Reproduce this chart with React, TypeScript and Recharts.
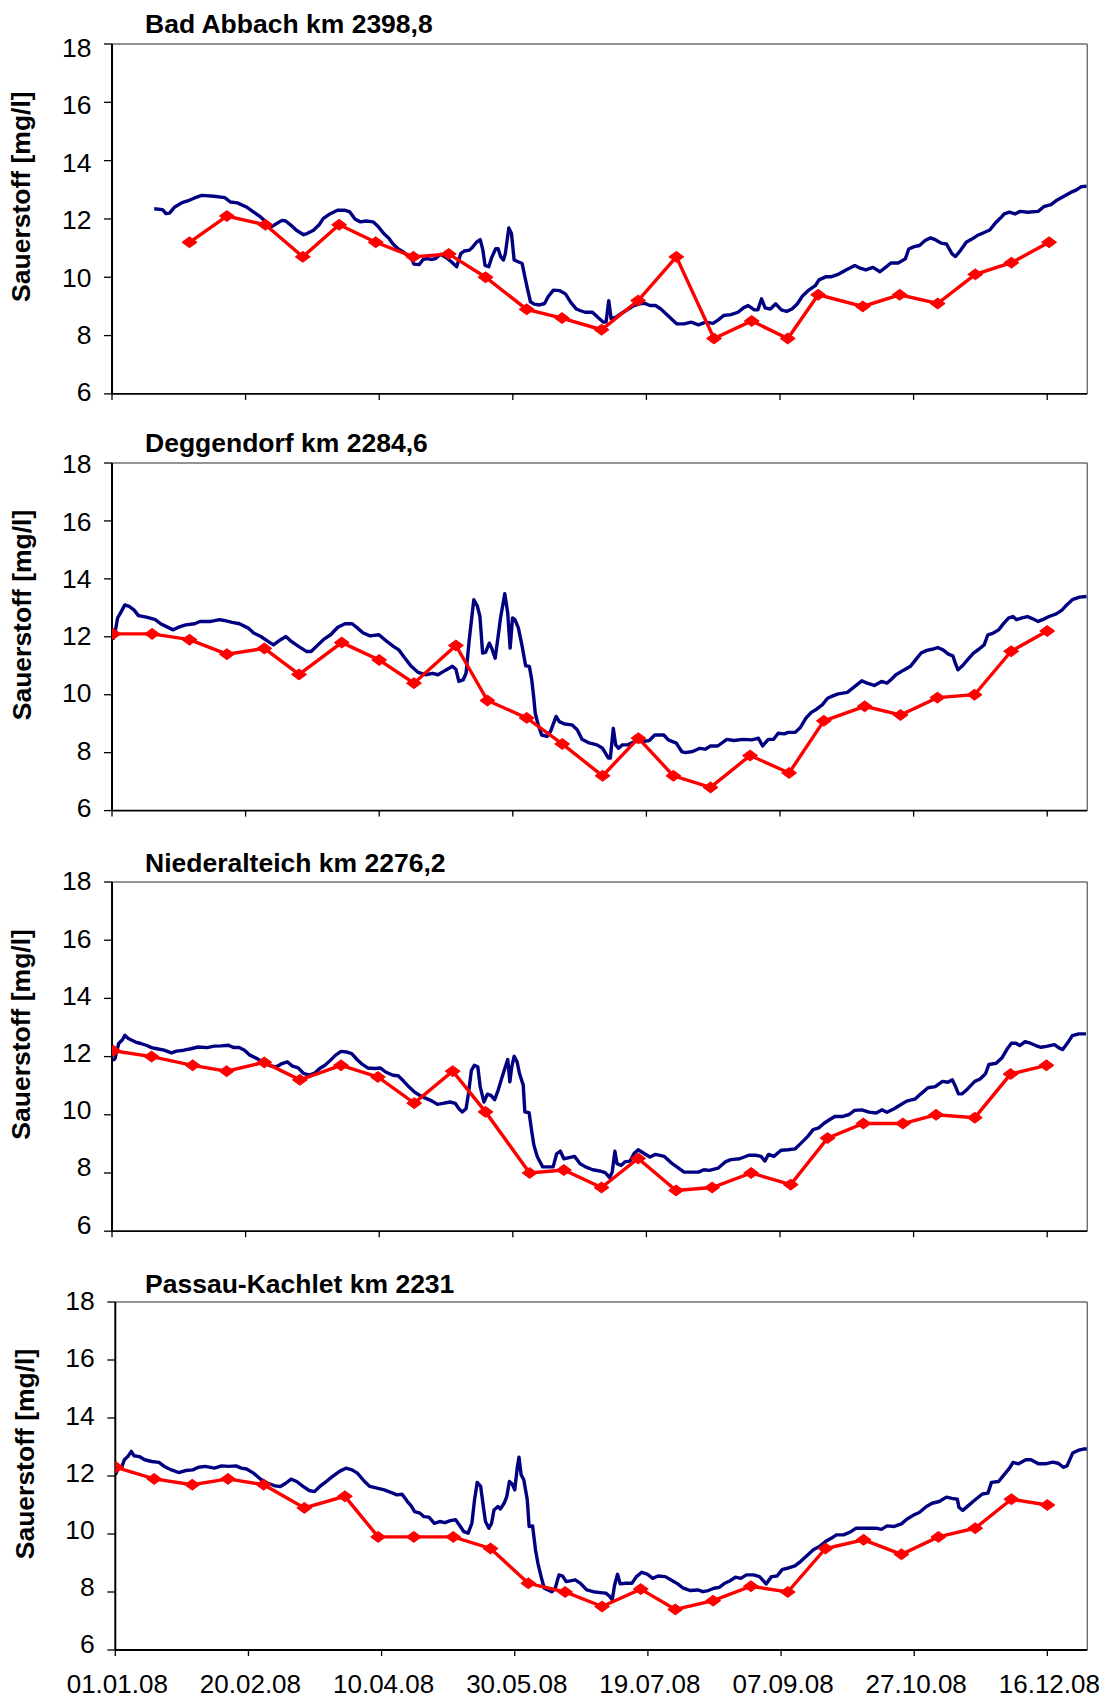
import React from 'react';
import { LineChart, Line, XAxis, YAxis, ReferenceLine } from 'recharts';

// Dissolved oxygen along the Danube, 2008: continuous station record (blue)
// and sampling results (red). x = day of year (0 = 01.01.08).
type Pt = [number, number];

const xTickDays = [0, 50, 100, 150, 200, 250, 300, 350];
const xTickLabels = ['01.01.08', '20.02.08', '10.04.08', '30.05.08', '19.07.08', '07.09.08', '27.10.08', '16.12.08'];
const yTicks = [6, 8, 10, 12, 14, 16, 18];
const yAxisTitle = 'Sauerstoff [mg/l]';
const stationTitles = ['Bad Abbach km 2398,8', 'Deggendorf km 2284,6', 'Niederalteich km 2276,2', 'Passau-Kachlet km 2231'];

const badAbbachContinuous: Pt[] = [
  [15.8,12.35],[18.9,12.32],[20.2,12.18],[21.5,12.2],[23.5,12.41],[26.2,12.56],[28.9,12.64],[30.9,12.72],[33.6,12.81],[38.2,12.78],
  [42.2,12.73],[44.3,12.58],[46.9,12.55],[50.3,12.41],[52.9,12.24],[55.6,12.07],[57.6,11.9],[59.6,11.73],[63.6,11.95],[65,11.93],
  [67,11.78],[69,11.61],[71.7,11.46],[73,11.5],[75.4,11.61],[77.7,11.82],[79,12.01],[81.7,12.18],[84.4,12.3],[87,12.3],
  [89,12.24],[91,11.99],[93,11.9],[95,11.93],[97.7,11.9],[99.7,11.73],[101.7,11.5],[103.7,11.33],[105,11.16],[107,10.98],
  [109,10.87],[110.4,10.76],[111.8,10.7],[113,10.45],[115,10.44],[116.4,10.61],[117.8,10.64],[119.8,10.61],[121,10.64],[123,10.79],
  [125,10.68],[127,10.53],[129,10.36],[130.5,10.81],[131.8,10.9],[133.8,10.93],[135,11.04],[136.5,11.21],[137.8,11.29],[138.8,10.93],
  [139.6,10.41],[141,10.36],[142.2,10.7],[143.6,10.98],[144.5,10.98],[145.5,10.7],[146.5,10.59],[147.2,10.81],[148.5,11.69],[149.5,11.5],
  [150.5,10.59],[152,10.53],[153.5,10.47],[154.5,10.02],[155.6,9.56],[156.6,9.16],[158,9.08],[160,9.05],[161.9,9.1],[163.2,9.33],
  [165.2,9.56],[167.6,9.54],[169.7,9.43],[171.7,9.14],[173.8,8.91],[175.1,8.86],[177.1,8.8],[179.8,8.8],[181.8,8.63],[183.9,8.46],
  [184.9,8.46],[185.9,9.2],[186.8,8.57],[188.6,8.63],[191.3,8.8],[193.3,8.91],[195.3,9.03],[197.3,9.09],[199.3,9.11],[201.3,9.03],
  [203.4,9.03],[205.4,8.91],[207.4,8.74],[209.4,8.57],[211.4,8.4],[214.1,8.4],[216.8,8.46],[219.5,8.37],[222.2,8.46],[224.9,8.42],
  [226.9,8.54],[228.9,8.69],[231.6,8.72],[234.3,8.8],[236.3,8.95],[238.1,9.03],[240.4,8.88],[241.7,8.88],[243.1,9.26],[244.4,8.95],
  [246.4,8.91],[248.4,9.09],[250.5,8.88],[252.5,8.83],[254.5,8.91],[256.5,9.09],[258.5,9.37],[260.5,9.54],[263.2,9.71],[264.6,9.91],
  [267.3,10.02],[269.3,10.02],[272,10.11],[274.7,10.25],[278,10.4],[280,10.31],[282.1,10.25],[284.8,10.34],[287.4,10.19],[289.5,10.34],
  [291.5,10.49],[294.2,10.49],[296.9,10.63],[298.2,10.97],[300.2,11.05],[302.2,11.09],[304.3,11.26],[306.3,11.35],[308.3,11.28],[310.3,11.17],
  [312.3,11.14],[314.4,10.8],[315.7,10.71],[317.7,10.94],[319.7,11.2],[321.8,11.31],[323.8,11.43],[325.8,11.51],[328.5,11.62],[330.5,11.85],
  [332.5,12.03],[333.9,12.17],[335.9,12.23],[337.9,12.17],[339.9,12.26],[342.6,12.23],[346.6,12.26],[348.7,12.42],[351.4,12.49],[353.4,12.63],
  [356.1,12.77],[358.8,12.91],[360.8,12.99],[362.8,13.11],[364.7,13.12],
];
const badAbbachSamples: Pt[] = [
  [29,11.2],[43,12.1],[57.4,11.8],[71.4,10.7],[85,11.8],[98.7,11.2],[112.8,10.7],[126,10.8],[139.8,10.0],[155.2,8.9],
  [168.4,8.6],[183.2,8.2],[196.9,9.2],[211.2,10.7],[225.3,7.9],[239.4,8.5],[252.9,7.9],[264.3,9.4],[281,9.0],[294.8,9.4],
  [309,9.1],[323.1,10.1],[336.6,10.5],[350.7,11.2],
];

const deggendorfContinuous: Pt[] = [
  [0.3,11.9],[1.1,12.13],[2.1,12.65],[3.5,12.88],[4.8,13.1],[6.4,13.05],[8.2,12.93],[9.9,12.73],[12.9,12.68],[16.2,12.59],
  [18.2,12.45],[20.2,12.36],[22.9,12.24],[24.9,12.33],[27.6,12.41],[30.9,12.45],[32.9,12.53],[37,12.53],[40.3,12.59],[42.3,12.56],
  [45,12.5],[47.7,12.45],[51,12.3],[53,12.13],[55.7,12.01],[58.4,11.84],[60.4,11.72],[63.1,11.9],[65.1,12.01],[67.1,11.84],
  [69.8,11.67],[72.9,11.49],[74.5,11.49],[76.5,11.67],[79.1,11.9],[81.8,12.07],[84.5,12.33],[87.2,12.45],[89.9,12.45],[91.9,12.3],
  [94,12.13],[96.6,12.03],[99.9,12.07],[102.6,11.86],[105.3,11.67],[107.3,11.55],[109.3,11.3],[112,10.98],[114.6,10.77],[117.3,10.69],
  [120,10.74],[122,10.69],[124.7,10.84],[127.4,10.98],[128.7,10.88],[129.8,10.46],[131.4,10.51],[132.5,10.74],[133.7,11.9],[135.4,13.28],
  [136.7,13.07],[137.7,12.7],[138.7,11.44],[139.8,11.46],[141.2,11.78],[142.1,11.61],[143.4,11.26],[144.5,12.01],[145.4,12.65],[147,13.49],
  [148.1,12.82],[149,11.61],[149.9,12.65],[150.8,12.59],[152.1,12.3],[153.5,11.67],[154.8,11],[156.2,10.98],[157.1,10.51],[157.8,9.94],
  [158.4,9.36],[159.5,8.96],[160.8,8.61],[162.8,8.56],[164.2,8.75],[166.2,9.25],[167.4,9.07],[169.4,8.99],[172.1,8.96],[174.1,8.79],
  [175.9,8.46],[178.2,8.35],[181.5,8.27],[183.6,8.15],[185.8,7.81],[186.5,7.81],[187.6,8.84],[188.5,8.27],[189.6,8.15],[191,8.27],
  [193,8.27],[195.7,8.38],[198.4,8.38],[201.1,8.42],[203.1,8.61],[206.5,8.61],[208.2,8.44],[211.2,8.33],[213.2,8.04],[214.6,8.0],
  [217.3,8.04],[220,8.15],[222,8.12],[224,8.23],[226.7,8.23],[230.1,8.46],[232.7,8.42],[236.1,8.46],[239.5,8.44],[241.9,8.5],
  [243.5,8.23],[245.6,8.46],[247.6,8.46],[249.3,8.67],[251.6,8.65],[253,8.7],[255.7,8.7],[257.7,8.88],[259.7,9.19],[261.7,9.39],
  [263.7,9.5],[265.8,9.65],[267.8,9.88],[269.8,9.96],[271.8,10.03],[275.2,10.08],[277.9,10.28],[280.6,10.48],[282.6,10.4],[285.3,10.32],
  [288,10.46],[290,10.4],[291.4,10.51],[293.4,10.69],[296.1,10.84],[298.8,10.98],[300.8,11.21],[302.8,11.44],[304.9,11.53],[306.9,11.57],
  [309,11.63],[311,11.55],[313,11.4],[314.7,11.34],[315.6,11.09],[316.6,10.86],[318.3,11],[320.4,11.23],[322.4,11.44],[324.4,11.57],
  [326.4,11.72],[327.8,12.07],[329.8,12.13],[331.8,12.24],[333.8,12.47],[335.6,12.65],[337.2,12.7],[338.5,12.59],[340.6,12.65],[342.6,12.7],
  [344.6,12.62],[346.6,12.53],[348.7,12.61],[350.7,12.7],[353.4,12.79],[355.4,12.91],[357.4,13.11],[359.4,13.28],[362.1,13.37],[364.7,13.39],
];
const deggendorfSamples: Pt[] = [
  [0.5,12.1],[15,12.1],[29,11.9],[43,11.4],[57,11.6],[70,10.7],[86,11.8],[100,11.2],[113,10.4],[128.7,11.7],
  [140.5,9.8],[155.2,9.2],[168.5,8.3],[183.6,7.2],[197,8.5],[210.1,7.2],[224,6.8],[238.8,7.9],[253.4,7.3],[266.4,9.1],
  [281.7,9.6],[295.1,9.3],[308.9,9.9],[322.8,10.0],[336.5,11.5],[350,12.2],
];

const niederalteichContinuous: Pt[] = [
  [0.3,11.87],[1.1,11.93],[2.5,12.45],[3.9,12.58],[4.8,12.73],[6.1,12.62],[8.8,12.5],[10.8,12.45],[12.8,12.39],[14.8,12.31],
  [16.8,12.27],[19.5,12.22],[22.2,12.13],[24.2,12.19],[26.9,12.22],[29.5,12.27],[32.2,12.33],[35.6,12.31],[38.2,12.36],[40.9,12.37],
  [43.6,12.39],[45.6,12.31],[47.6,12.31],[49.6,12.22],[51.6,12.05],[54.3,11.93],[57,11.78],[59.6,11.67],[61.6,11.65],[63.6,11.76],
  [65.6,11.82],[67.6,11.67],[69.7,11.61],[71.7,11.42],[73.7,11.36],[75.7,11.42],[77.7,11.59],[79.7,11.7],[81.7,11.87],[83.7,12.05],
  [85.7,12.18],[87.7,12.16],[89.7,12.1],[91.7,11.9],[93.7,11.73],[95.7,11.61],[98.4,11.59],[100.4,11.61],[102.4,11.47],[105.1,11.36],
  [107.1,11.34],[109.1,11.16],[111.1,10.96],[113.1,10.79],[115.1,10.67],[117.1,10.58],[119.8,10.47],[121.8,10.36],[123.8,10.39],[126.5,10.44],
  [128.5,10.39],[129.8,10.21],[131.1,10.1],[132.5,10.21],[133.4,10.73],[134.5,11.53],[135.6,11.7],[136.9,11.65],[137.8,10.96],[139.2,10.44],
  [140.5,10.71],[141.8,10.67],[143.2,10.52],[144.5,10.84],[145.8,11.24],[146.8,11.53],[148.1,11.9],[148.9,11.13],[149.6,11.65],[150.5,12.01],
  [151.6,11.82],[152.5,11.42],[153.9,11.02],[154.5,10.1],[156.1,10.07],[157.2,9.36],[157.9,8.95],[159.2,8.55],[161.2,8.21],[165.1,8.21],
  [166.4,8.66],[167.8,8.75],[169.1,8.49],[171.1,8.53],[173.1,8.57],[175.2,8.32],[177.2,8.21],[179.9,8.11],[182.5,8.07],[184.6,8.01],
  [186.2,7.84],[187.2,8.03],[188.2,8.75],[189,8.32],[190.6,8.26],[191.9,8.38],[193.9,8.41],[195.3,8.66],[196.9,8.8],[199.3,8.66],
  [201.3,8.55],[203.4,8.64],[206.7,8.57],[209.4,8.34],[211.4,8.21],[214.1,8.03],[216.8,8.03],[219.5,8.03],[221.5,8.11],[223.5,8.09],
  [226.9,8.17],[229.5,8.38],[231.6,8.46],[234.9,8.49],[238.3,8.61],[240.9,8.61],[242.9,8.57],[244.3,8.41],[245.7,8.64],[247.7,8.57],
  [250.4,8.78],[253,8.8],[255.7,8.83],[257.7,9.01],[260.4,9.26],[262.4,9.49],[264.5,9.55],[266.5,9.71],[268.5,9.83],[270.5,9.94],
  [273.2,9.94],[275.9,10.01],[277.9,10.15],[280.6,10.17],[283.3,10.09],[286,10.06],[288.2,10.17],[290,10.09],[292.7,10.21],[294.7,10.32],
  [297.4,10.47],[300.7,10.55],[302.7,10.72],[305.4,10.93],[308.1,10.97],[310.8,11.15],[312.8,11.12],[314.5,11.2],[315.5,11.01],[316.8,10.72],
  [318.2,10.72],[320.2,10.89],[322.9,11.15],[324.9,11.23],[326.9,11.41],[328.2,11.73],[330.9,11.77],[333,11.95],[335,12.26],[336.6,12.46],
  [338.3,12.46],[339.7,12.38],[341.7,12.51],[343.7,12.46],[345.7,12.38],[347.7,12.32],[349.7,12.35],[352.7,12.41],[354.4,12.3],[355.8,12.24],
  [357.8,12.49],[359.4,12.72],[361.8,12.78],[364.5,12.78],
];
const niederalteichSamples: Pt[] = [
  [0.5,12.2],[14.8,12.0],[30.2,11.7],[42.9,11.5],[57,11.8],[70.3,11.2],[85.7,11.7],[99.5,11.3],[113.1,10.4],[127.5,11.5],
  [139.8,10.1],[156.3,8.0],[169.1,8.1],[183.2,7.5],[196.9,8.5],[211.1,7.4],[224.6,7.5],[239.2,8.0],[254,7.6],[267.8,9.2],
  [281.2,9.7],[296,9.7],[308.4,10.0],[322.9,9.9],[336.3,11.4],[349.7,11.7],
];

const passauContinuous: Pt[] = [
  [0,12.04],[1.2,12.27],[2.3,12.27],[3.4,12.56],[4.7,12.67],[6,12.85],[7,12.7],[9,12.67],[11,12.56],[13.7,12.5],
  [16.4,12.47],[18.4,12.33],[21.1,12.21],[23.8,12.12],[26.5,12.19],[29.1,12.21],[31.2,12.3],[33.8,12.33],[37.2,12.27],[39.9,12.35],
  [42.6,12.33],[45.3,12.35],[47.3,12.27],[49.3,12.24],[51.9,12.1],[54.6,11.89],[57.3,11.75],[60,11.66],[62,11.64],[64,11.75],
  [66,11.89],[68.1,11.81],[70.5,11.64],[72.8,11.5],[74.8,11.46],[76.8,11.64],[78.8,11.78],[81.5,11.98],[84.2,12.16],[86.6,12.27],
  [88.9,12.21],[90.9,12.1],[93.6,11.81],[95.6,11.64],[98.3,11.58],[101,11.52],[103.7,11.43],[105.7,11.35],[107.7,11.37],[109.7,11.12],
  [111.1,10.97],[112.4,10.77],[114.4,10.72],[115.8,10.6],[117.8,10.58],[119.8,10.37],[121.8,10.43],[123.8,10.39],[125.8,10.46],[127.8,10.49],
  [129.2,10.31],[130.9,10.08],[132.5,10.03],[133.9,10.37],[134.9,11.18],[135.9,11.78],[137.2,11.64],[138.2,10.95],[139,10.43],[140.3,10.2],
  [141.3,10.37],[142.2,10.83],[143.7,10.95],[144.6,10.86],[146,11.06],[147,11.29],[148,11.81],[149,11.73],[150,11.52],[151,12.33],
  [151.6,12.65],[152.4,12.04],[153.4,11.87],[154.7,11.18],[155.4,10.26],[156.7,10.28],[157.8,9.45],[158.7,8.99],[160.2,8.42],[161.1,8.13],
  [162.5,8.07],[163.9,8.01],[165.2,8.13],[166.6,8.59],[168,8.55],[169.3,8.36],[171.3,8.39],[172.7,8.42],[174.7,8.3],[177,8.07],
  [179.5,8.01],[182.1,7.98],[184.2,7.96],[185.5,7.86],[186.6,7.73],[187.5,8.24],[188.6,8.61],[189.6,8.28],[191.6,8.3],[194,8.3],
  [195.7,8.53],[197.7,8.68],[199.7,8.62],[201.8,8.47],[203.8,8.55],[206.5,8.53],[209.2,8.39],[211.2,8.28],[213.3,8.13],[216,8.05],
  [218.7,8.07],[220.7,8.01],[222.7,8.05],[224.8,8.13],[226.8,8.16],[228.8,8.3],[230.9,8.39],[232.9,8.51],[234.9,8.47],[237,8.59],
  [239.7,8.59],[241.9,8.53],[244.4,8.28],[246.4,8.53],[248.5,8.55],[250.5,8.78],[252.5,8.82],[255.2,8.9],[257.3,9.05],[260,9.28],
  [262,9.45],[264.7,9.59],[266.7,9.74],[268.8,9.85],[270.8,9.97],[273.5,9.97],[276.2,10.08],[278.2,10.2],[280.9,10.2],[283.7,10.2],
  [285.7,10.2],[287.7,10.16],[289.8,10.28],[292.5,10.26],[295.2,10.35],[297.2,10.51],[299.9,10.66],[301.9,10.74],[304.6,10.95],[306.7,11.06],
  [309.4,11.12],[312.1,11.27],[314.1,11.23],[316.2,11.2],[316.8,10.92],[318.2,10.81],[320.2,10.97],[322.9,11.18],[325.6,11.38],[327.7,11.41],
  [329,11.78],[331.7,11.81],[333.7,12.04],[335.8,12.27],[337.1,12.47],[339.2,12.42],[341.9,12.56],[343.9,12.56],[346.6,12.42],[349.3,12.42],
  [352,12.48],[354,12.44],[356.1,12.3],[357.4,12.35],[359.5,12.79],[361.5,12.88],[363.5,12.93],[364.8,12.93],
];
const passauSamples: Pt[] = [
  [0.3,12.3],[14.6,11.9],[28.9,11.7],[42.3,11.9],[55.7,11.7],[71,10.9],[86.2,11.3],[98.7,9.9],[112.1,9.9],[126.9,9.9],
  [140.9,9.5],[155.1,8.3],[168.9,8.0],[182.8,7.5],[197.3,8.1],[210.3,7.4],[224.5,7.7],[238.7,8.2],[252.5,8.0],[266.7,9.5],
  [281,9.8],[295.2,9.3],[309.1,9.9],[322.9,10.2],[336.5,11.2],[350,11.0],
];

const FONT = '"Liberation Sans", Arial, Helvetica, sans-serif';
const PAGE_W = 1105;
const PAGE_H = 1699;
const PLOT_RIGHT = 1087.3;
const TOP_PAD = 50;
const X_AXIS_H = 48;

const toRows = (pts: Pt[]) => pts.map(([d, v]) => ({ d, v }));

interface PanelSpec {
  title: string;
  continuous: Pt[];
  samples: Pt[];
  plotTop: number;
  plotBottom: number;
  plotLeft: number;
  titleBaseline: number;
  labelX: number;
  tickShiftTop: number;
  tickShiftBottom: number;
  showDates: boolean;
}

const panels: PanelSpec[] = [
  { title: stationTitles[0], continuous: badAbbachContinuous, samples: badAbbachSamples, plotTop: 43.7, plotBottom: 393.6, plotLeft: 112, titleBaseline: 32.7, labelX: 24, tickShiftTop: 3.5, tickShiftBottom: -2, showDates: false },
  { title: stationTitles[1], continuous: deggendorfContinuous, samples: deggendorfSamples, plotTop: 463.2, plotBottom: 810.8, plotLeft: 112, titleBaseline: 451.7, labelX: 24, tickShiftTop: 1, tickShiftBottom: -3, showDates: false },
  { title: stationTitles[2], continuous: niederalteichContinuous, samples: niederalteichSamples, plotTop: 881.8, plotBottom: 1231, plotLeft: 112, titleBaseline: 871.7, labelX: 24, tickShiftTop: -1, tickShiftBottom: -7, showDates: false },
  { title: stationTitles[3], continuous: passauContinuous, samples: passauSamples, plotTop: 1302, plotBottom: 1650, plotLeft: 115.3, titleBaseline: 1293.3, labelX: 27, tickShiftTop: -1, tickShiftBottom: -6.5, showDates: true },
];

const renderDiamond = (p: any) => {
  const { cx, cy, index } = p;
  if (cx == null || cy == null) return <g key={`dm-${index}`} />;
  const hw = 7.5;
  const hh = 5.5;
  return (
    <path
      key={`dm-${index}`}
      d={`M${cx},${cy - hh}L${cx + hw},${cy}L${cx},${cy + hh}L${cx - hw},${cy}Z`}
      fill="#FF0000"
      stroke="#FF0000"
      strokeWidth={1}
    />
  );
};

function Panel({ spec }: { spec: PanelSpec }) {
  const plotH = spec.plotBottom - spec.plotTop;
  const chartH = TOP_PAD + plotH + X_AXIS_H;
  const continuousRows = toRows(spec.continuous);
  const sampleRows = toRows(spec.samples);

  const YTick = (props: any) => {
    const { x, y, payload } = props;
    const t = (18 - payload.value) / 12;
    const shift = spec.tickShiftTop + (spec.tickShiftBottom - spec.tickShiftTop) * t;
    return (
      <text x={x} y={y + shift} dy="0.355em" textAnchor="end" fontFamily={FONT} fontSize={26.5} fill="#000">
        {payload.value}
      </text>
    );
  };

  const XTick = (props: any) => {
    const { x, y, payload } = props;
    if (!spec.showDates) return <g />;
    const i = xTickDays.indexOf(payload.value);
    return (
      <text x={x + 2} y={y} dy="0.71em" textAnchor="middle" fontFamily={FONT} fontSize={26} fill="#000">
        {xTickLabels[i]}
      </text>
    );
  };

  return (
    <div style={{ position: 'absolute', left: 0, top: spec.plotTop - TOP_PAD }}>
      <LineChart
        width={PAGE_W}
        height={chartH}
        margin={{ top: TOP_PAD, right: PAGE_W - PLOT_RIGHT, bottom: 0, left: 0 }}
        style={{ overflow: 'visible' }}
      >
        <XAxis
          dataKey="d"
          type="number"
          domain={[0, 365]}
          ticks={xTickDays}
          allowDataOverflow
          height={X_AXIS_H}
          tickSize={6}
          tickMargin={19}
          axisLine={{ stroke: '#000', strokeWidth: 1.8 }}
          tickLine={{ stroke: '#000', strokeWidth: 1.3 }}
          tick={<XTick />}
          interval={0}
        />
        <YAxis
          type="number"
          domain={[6, 18]}
          ticks={yTicks}
          allowDataOverflow
          width={spec.plotLeft}
          tickSize={8}
          tickMargin={12.5}
          axisLine={{ stroke: '#000', strokeWidth: 2 }}
          tickLine={{ stroke: '#000', strokeWidth: 1.3 }}
          tick={<YTick />}
          interval={0}
        />
        <ReferenceLine y={18} stroke="#6f6f6f" strokeWidth={1.4} />
        <ReferenceLine x={365} stroke="#6f6f6f" strokeWidth={1.4} />
        <Line
          data={continuousRows}
          dataKey="v"
          type="linear"
          stroke="#000080"
          strokeWidth={3.4}
          dot={false}
          activeDot={false}
          isAnimationActive={false}
          strokeLinejoin="round"
        />
        <Line
          data={sampleRows}
          dataKey="v"
          type="linear"
          stroke="#FF0000"
          strokeWidth={3.4}
          dot={renderDiamond}
          activeDot={false}
          isAnimationActive={false}
        />
      </LineChart>
    </div>
  );
}

export default function App() {
  return (
    <div style={{ position: 'absolute', left: 0, top: 0, width: PAGE_W, height: PAGE_H, background: '#fff', overflow: 'hidden' }}>
      {panels.map((p) => (
        <Panel key={p.title} spec={p} />
      ))}
      <svg width={PAGE_W} height={PAGE_H} style={{ position: 'absolute', left: 0, top: 0, pointerEvents: 'none' }}>
        {panels.map((p) => {
          const cy = (p.plotTop + p.plotBottom) / 2 - 22;
          return (
            <g key={`lbl-${p.title}`}>
              <text x={145} y={p.titleBaseline} fontFamily={FONT} fontWeight="bold" fontSize={26.5} fill="#000">
                {p.title}
              </text>
              <text
                x={p.labelX}
                y={cy}
                dy={6.5}
                transform={`rotate(-90 ${p.labelX} ${cy})`}
                textAnchor="middle"
                fontFamily={FONT}
                fontWeight="bold"
                fontSize={26.5}
                fill="#000"
              >
                {yAxisTitle}
              </text>
            </g>
          );
        })}
      </svg>
    </div>
  );
}
